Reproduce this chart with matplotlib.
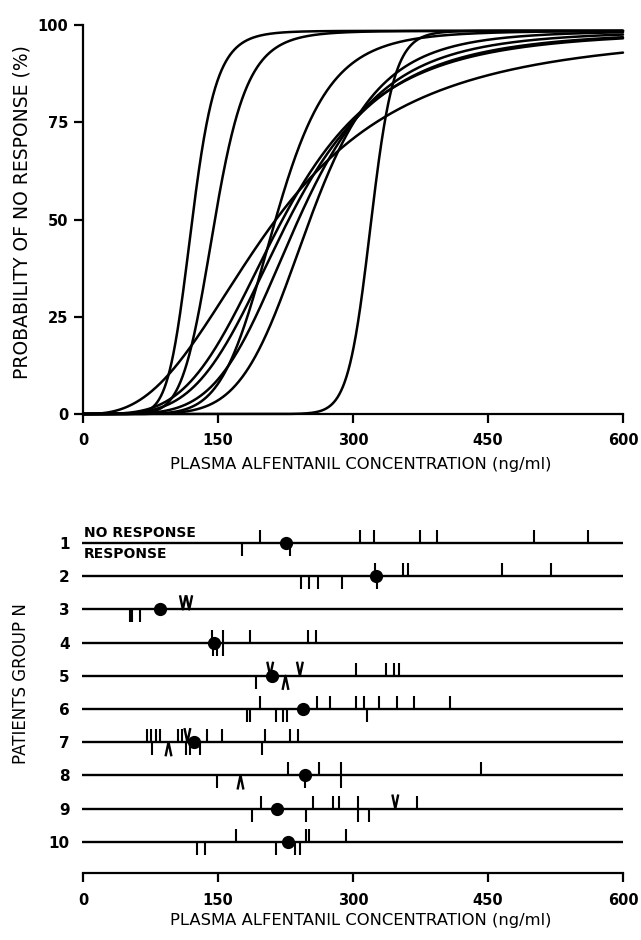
import numpy as np
import matplotlib
matplotlib.use("Agg")
import matplotlib.pyplot as plt

plt.rcParams['font.family'] = ['DejaVu Sans']

# ---------------- top panel: fitted Hill curves (C50 in ng/ml, slope gamma) ----------------
c50 = [121, 146, 212, 213, 220, 227, 238, 251, 320]
gamma = [9.0, 8.0, 2.7, 7.0, 3.9, 4.2, 5.0, 6.4, 25.0]
emax = 98.5
x_ticks = [0, 150, 300, 450, 600]
y_ticks = [0, 25, 50, 75, 100]

# ---------------- bottom panel: individual observations ----------------
rows = [1, 2, 3, 4, 5, 6, 7, 8, 9, 10]
circle = [225, 325, 86, 146, 210, 244, 123, 247, 215, 228]
no_resp = [
    [197, 308, 323, 374, 393, 501, 561],
    [324, 356, 361, 465, 520],
    [],
    [143, 155, 185, 250, 259],
    [303, 337, 345, 351],
    [197, 260, 274, 303, 312, 329, 349, 368, 408],
    [71, 75, 81, 85, 106, 110, 138, 154, 202, 230, 239],
    [228, 262, 287, 442],
    [198, 255, 278, 284, 306, 371],
    [170, 248, 251, 292],
]
resp = [
    [177, 230],
    [242, 251, 261, 288, 327],
    [52, 54, 63],
    [144, 149, 155],
    [192],
    [182, 186, 214, 222, 227, 315],
    [77, 114, 119, 130, 199],
    [149, 247, 287],
    [188, 248, 306, 318],
    [127, 136, 214, 235, 241],
]
no_resp_v = [[], [], [111, 118], [], [208, 241], [], [116], [], [347], []]
resp_v = [[], [], [], [], [225], [], [95], [175], [], []]

W, H = 641, 940
fig = plt.figure(figsize=(W / 100, H / 100), dpi=100)

tick_font = dict(fontsize=10.5, fontweight='bold')
xlabel_font = dict(fontsize=11.8)

# ---- top axes ----
ax1 = fig.add_axes([83 / W, (H - 414) / H, 540 / W, 389 / H])
xx = np.linspace(0, 600, 1501)
for c, g in zip(c50, gamma):
    p = emax * xx ** g / (xx ** g + c ** g)
    ax1.plot(xx, p, color='black', lw=1.8, solid_capstyle='round', clip_on=False)
ax1.set_xlim(0, 600)
ax1.set_ylim(0, 100)
ax1.set_xticks(x_ticks)
ax1.set_yticks(y_ticks)
ax1.set_xticklabels([str(v) for v in x_ticks], **tick_font)
ax1.set_yticklabels([str(v) for v in y_ticks], **tick_font)
for s in ['top', 'right']:
    ax1.spines[s].set_visible(False)
for s in ['left', 'bottom']:
    ax1.spines[s].set_linewidth(1.6)
ax1.tick_params(direction='out', length=6.5, width=1.6)
ax1.tick_params(axis='x', pad=7)
ax1.tick_params(axis='y', pad=4)
ax1.set_xlabel('PLASMA ALFENTANIL CONCENTRATION (ng/ml)', **xlabel_font)
ax1.set_ylabel('PROBABILITY OF NO RESPONSE (%)', fontsize=13.5)
ax1.xaxis.set_label_coords((361 - 83) / 540, (414 - 457) / 389)
ax1.yaxis.set_label_coords((31 - 83) / 540, (414 - 212) / 389)

# ---- bottom axes ----
row_top_px, row_gap = 543, 33.2
ybot = 1 + (873 - row_top_px) / row_gap
ytop = 1 - (row_top_px - 510) / row_gap
ax2 = fig.add_axes([83 / W, (H - 873) / H, 540 / W, 363 / H])
ax2.set_xlim(0, 600)
ax2.set_ylim(ybot, ytop)
tl = 0.39   # tick length in row units
dv = 3.0    # half spread of V marks
for i, r in enumerate(rows):
    ax2.hlines(r, -1.5, 600, color='black', lw=1.7, clip_on=False)
    if no_resp[i]:
        ax2.vlines(no_resp[i], r - tl, r, color='black', lw=1.5)
    if resp[i]:
        ax2.vlines(resp[i], r, r + tl, color='black', lw=1.5)
    for v in no_resp_v[i]:
        ax2.plot([v - dv, v, v + dv], [r - tl, r, r - tl], color='black', lw=1.7)
    for v in resp_v[i]:
        ax2.plot([v - dv, v, v + dv], [r + tl, r, r + tl], color='black', lw=1.7)
ax2.plot(circle, rows, 'o', color='black', ms=8.5, zorder=5)

ax2.text(1, 1 - 0.1, 'NO RESPONSE', ha='left', va='bottom', fontsize=10, fontweight='bold')
ax2.text(1, 1 + 0.11, 'RESPONSE', ha='left', va='top', fontsize=10, fontweight='bold')

ax2.set_xticks(x_ticks)
ax2.set_xticklabels([str(v) for v in x_ticks], **tick_font)
ax2.set_yticks(rows)
ax2.set_yticklabels([str(r) for r in rows], fontsize=11, fontweight='bold')
for s in ['top', 'right', 'left']:
    ax2.spines[s].set_visible(False)
ax2.spines['bottom'].set_linewidth(1.6)
ax2.tick_params(axis='x', direction='out', length=6.5, width=1.6, pad=8)
ax2.tick_params(axis='y', length=0, pad=9.5)
ax2.set_xlabel('PLASMA ALFENTANIL CONCENTRATION (ng/ml)', **xlabel_font)
ax2.set_ylabel('PATIENTS GROUP N', fontsize=12)
ax2.xaxis.set_label_coords((361 - 83) / 540, (873 - 913) / 363)
ax2.yaxis.set_label_coords((30 - 83) / 540, (873 - 684) / 363)

fig.savefig('out.png', dpi=100)
